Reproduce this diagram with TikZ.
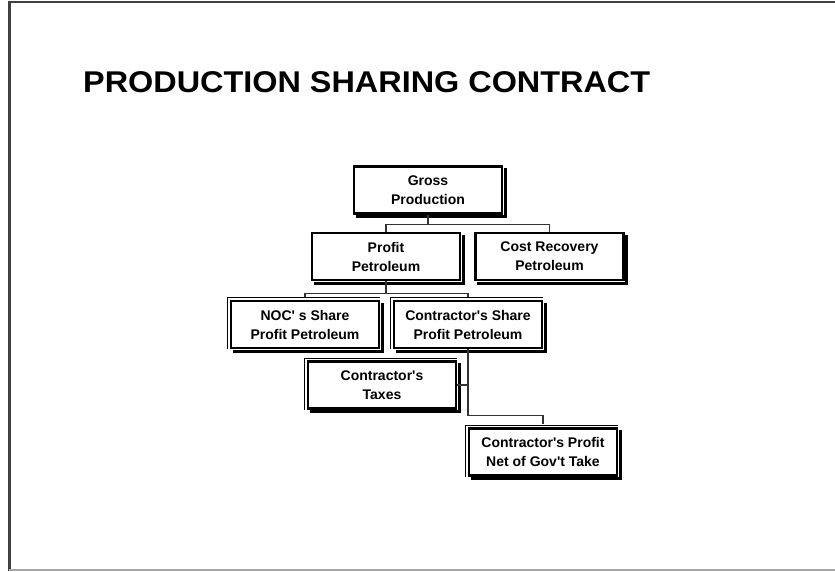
\documentclass[tikz,border=0pt]{standalone}
\usepackage{fontspec}
\setmainfont{Liberation Sans}
\newfontfamily\titlefont[FakeStretch=1.08]{Liberation Sans}
\newcommand{\sq}{\textquotesingle}
\begin{document}
\begin{tikzpicture}[x=1pt,y=-1pt,
  box/.style={draw=black, line width=2.4pt, fill=white, minimum width=148pt, minimum height=47pt,
    inner sep=0pt, align=center, font=\bfseries\fontsize{14}{19}\selectfont},
  conn/.style={draw=black!80, line width=1.3pt},
  shadowline/.style={line width=2.8pt, black},
  thinline/.style={line width=0.8pt, black}]
\useasboundingbox (0,0) rectangle (835,571);
% frame
\draw[line width=2.6pt, black!75] (9.5,571) -- (9.5,2) -- (835,2);
\draw[line width=1.5pt, black!35] (9,570) -- (835,570);
% title
\node[anchor=base west, inner sep=0pt, font=\titlefont\bfseries\fontsize{30}{36}\selectfont] (title) at (83,92) {PRODUCTION SHARING CONTRACT};
% boxes
\node[box] (gross) at (428,190) {Gross\\Production};
\node[box] (profit) at (386,256.5) {Profit\\Petroleum};
\node[box] (cost) at (549.5,256.5) {Cost Recovery\\Petroleum};
\node[box] (noc) at (305,324.5) {NOC\sq{} s Share\\Profit Petroleum};
\node[box] (cshare) at (468,324.5) {Contractor\sq{}s Share\\Profit Petroleum};
\node[box] (taxes) at (382,385) {Contractor\sq{}s\\Taxes};
\node[box] (cprofit) at (543,452) {Contractor\sq{}s Profit\\Net of Gov\sq{}t Take};
% shadows
\foreach \n in {gross,profit,cost,noc,cshare,taxes,cprofit}{
  \draw[shadowline] ([shift={(2,3)}]\n.north east) -- ([shift={(2,2)}]\n.south east) -- ([shift={(3,2)}]\n.south west);
}
% thin outer lines
\foreach \n in {noc,cshare,taxes,cprofit}{
  \draw[thinline] ([shift={(-2.4,0)}]\n.south west) -- ([shift={(-2.4,-2.4)}]\n.north west) -- ([shift={(0,-2.4)}]\n.north east);
}
% connectors
\draw[conn] (gross.south) -- ++(0,10) coordinate (g1);
\draw[conn] (profit.north) |- (g1) -| (cost.north);
\draw[conn] (profit.south) -- ++(0,12) coordinate (p1);
\draw[conn] ([yshift=3pt]noc.north) |- (p1) -| ([yshift=3pt]cshare.north);
\draw[conn] (cshare.south) |- ([yshift=12pt]cprofit.north) -- ([yshift=3pt]cprofit.north);
\draw[conn] (taxes.east) -- (taxes.east -| cshare.south);
\end{tikzpicture}
\end{document}
